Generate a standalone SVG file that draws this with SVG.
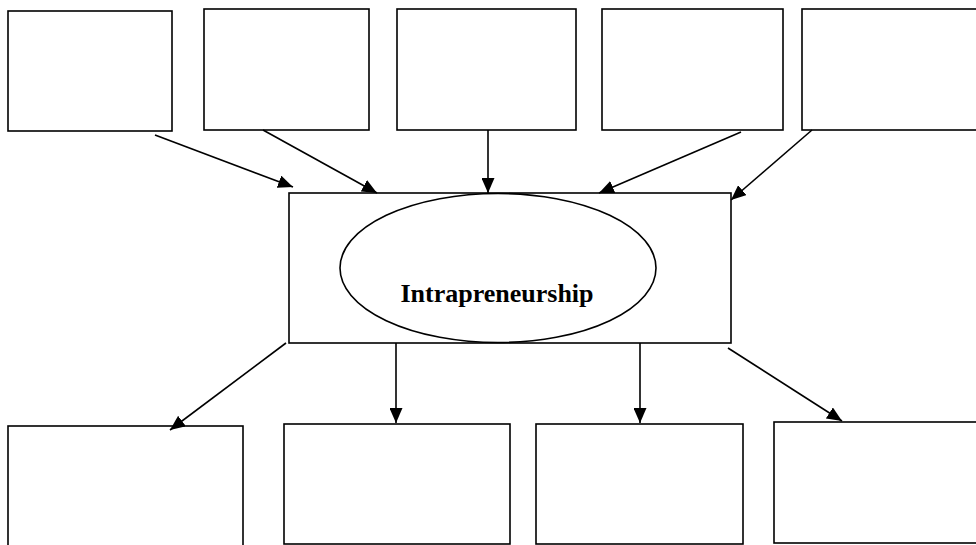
<svg xmlns="http://www.w3.org/2000/svg" width="976" height="545" viewBox="0 0 976 545">
<defs>
<style>
.box{fill:#fff;stroke:#000;stroke-width:1.6}
.con{stroke:#000;stroke-width:1.6;fill:none;marker-end:url(#ah)}
.lbl{font-family:"Liberation Serif","Times New Roman",serif;font-weight:bold;font-size:26px;text-anchor:middle}
</style>
<marker id="ah" markerUnits="userSpaceOnUse" markerWidth="15" markerHeight="13" refX="15" refY="6.5" orient="auto">
<path d="M0,0 L15,6.5 L0,13 z" fill="#000"/>
</marker>
</defs>
<rect width="976" height="545" fill="#fff"/>
<g id="top1"><rect class="box" x="8" y="11" width="164" height="120"/></g>
<g id="top2"><rect class="box" x="204" y="9" width="165" height="121"/></g>
<g id="top3"><rect class="box" x="397" y="9" width="179" height="121"/></g>
<g id="top4"><rect class="box" x="602" y="9" width="181" height="121"/></g>
<g id="top5"><rect class="box" x="802" y="9" width="190" height="121"/></g>
<g id="center">
<rect class="box" x="289" y="193" width="442" height="150"/>
<ellipse cx="498" cy="268" rx="158" ry="74.5" fill="#fff" stroke="#000" stroke-width="1.6"/>
<text class="lbl" x="497" y="302">Intrapreneurship</text>
</g>
<g id="bot1"><rect class="box" x="8" y="426" width="235" height="130"/></g>
<g id="bot2"><rect class="box" x="284" y="424" width="226" height="120"/></g>
<g id="bot3"><rect class="box" x="536" y="424" width="207" height="120"/></g>
<g id="bot4"><rect class="box" x="774" y="422" width="220" height="121"/></g>
<g id="connectors">
<line class="con" x1="155" y1="135" x2="293" y2="187"/>
<line class="con" x1="263" y1="130" x2="377" y2="193"/>
<line class="con" x1="488" y1="130" x2="488" y2="193"/>
<line class="con" x1="741" y1="132" x2="599" y2="193"/>
<line class="con" x1="812" y1="130" x2="731" y2="200"/>
<line class="con" x1="286" y1="343" x2="170" y2="430"/>
<line class="con" x1="396" y1="343" x2="396" y2="423"/>
<line class="con" x1="640" y1="343" x2="640" y2="423"/>
<line class="con" x1="728" y1="348" x2="842" y2="421"/>
</g>
</svg>
